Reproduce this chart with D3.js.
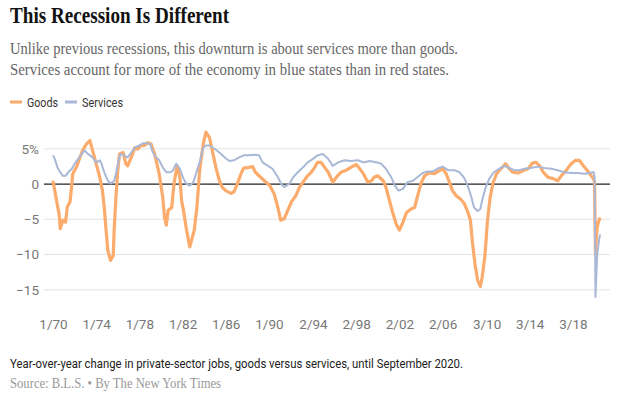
<!DOCTYPE html>
<html>
<head>
<meta charset="utf-8">
<script src="https://cdn.jsdelivr.net/npm/d3@7"></script>
<style>
  body { margin: 0; background: #fff; }
  svg { display: block; }
  .title { font-family: "Liberation Serif", serif; font-weight: 700; font-size: 24px; fill: #121212; }
  .dek { font-family: "Liberation Serif", serif; font-size: 17px; fill: #666; }
  .legend-label { font-family: "Roboto", sans-serif; font-size: 13.5px; fill: #333; }
  .axis text { font-family: "Roboto", sans-serif; font-size: 13.5px; fill: #777; }
  .axis path { display: none; }
  .note { font-family: "Roboto", sans-serif; font-size: 13.5px; fill: #222; }
  .source { font-family: "Liberation Serif", serif; font-size: 14.5px; fill: #999; }
</style>
</head>
<body>
<svg id="chart" width="628" height="399"></svg>
<script>
// Jährliche Veränderung der Beschäftigung: Güter vs. Dienstleistungen

const goods = [
  ["1970-01", 0.4], ["1970-03", -1.0], ["1970-06", -3.1], ["1970-08", -4.5], ["1970-09", -6.4],
  ["1970-12", -5.2], ["1971-03", -5.5], ["1971-05", -3.3], ["1971-08", -2.6], ["1971-10", 0.0],
  ["1971-11", 1.4], ["1972-03", 2.3], ["1972-07", 3.7], ["1972-10", 4.7], ["1973-02", 5.6],
  ["1973-06", 6.1], ["1973-09", 4.7], ["1974-01", 2.8], ["1974-05", 0.9], ["1974-08", -1.0],
  ["1974-10", -3.4], ["1974-12", -6.6], ["1975-02", -9.5], ["1975-05", -10.9], ["1975-08", -10.2],
  ["1975-09", -6.6], ["1975-11", -1.9], ["1976-01", 1.8], ["1976-03", 4.2], ["1976-07", 4.4],
  ["1976-10", 2.8], ["1976-12", 2.5], ["1977-04", 3.7], ["1977-08", 5.1], ["1977-11", 4.9],
  ["1978-03", 5.4], ["1978-07", 5.4], ["1978-10", 5.8], ["1979-02", 5.6], ["1979-06", 4.2],
  ["1979-11", 1.4], ["1980-03", -1.9], ["1980-05", -4.8], ["1980-07", -5.9], ["1980-09", -3.8],
  ["1981-01", -3.4], ["1981-02", -1.9], ["1981-04", 0.4], ["1981-07", 2.5], ["1981-10", 0.9],
  ["1981-12", -2.5], ["1982-02", -3.8], ["1982-05", -6.2], ["1982-07", -7.6], ["1982-09", -9.0],
  ["1983-01", -7.1], ["1983-02", -6.6], ["1983-05", -3.4], ["1983-08", 1.8], ["1983-12", 5.6],
  ["1984-03", 7.3], ["1984-07", 6.5], ["1984-10", 4.7], ["1985-02", 2.3], ["1985-06", 0.4],
  ["1985-09", -0.5], ["1986-01", -1.0], ["1986-07", -1.4], ["1986-10", -1.2], ["1987-02", 0.0],
  ["1987-06", 1.4], ["1987-09", 2.2], ["1988-03", 2.3], ["1988-07", 2.4], ["1988-10", 1.6],
  ["1989-02", 1.1], ["1989-08", 0.4], ["1990-02", -0.3], ["1990-07", -1.5], ["1990-11", -3.4],
  ["1991-02", -5.2], ["1991-06", -5.0], ["1991-10", -3.8], ["1992-02", -2.6], ["1992-07", -1.7],
  ["1992-11", -0.5], ["1993-03", 0.2], ["1993-08", 1.1], ["1993-12", 1.6], ["1994-04", 2.3],
  ["1994-07", 3.0], ["1994-11", 3.0], ["1995-03", 2.3], ["1995-07", 1.6], ["1995-12", 0.2],
  ["1996-04", 0.9], ["1996-09", 1.6], ["1997-03", 1.9], ["1997-08", 2.3], ["1998-02", 2.7],
  ["1998-06", 2.1], ["1998-10", 1.4], ["1999-03", 0.2], ["1999-07", 0.4], ["1999-10", 0.9],
  ["2000-02", 1.1], ["2000-08", 0.4], ["2000-11", -0.5], ["2001-03", -2.4], ["2001-07", -4.3],
  ["2001-11", -5.9], ["2002-02", -6.6], ["2002-06", -5.5], ["2002-10", -4.1], ["2003-03", -3.6],
  ["2003-07", -3.4], ["2003-10", -1.9], ["2004-02", 0.0], ["2004-06", 1.1], ["2004-11", 1.5],
  ["2005-05", 1.4], ["2005-10", 1.8], ["2006-02", 2.1], ["2006-06", 1.4], ["2006-09", 0.4],
  ["2007-01", -1.0], ["2007-05", -1.7], ["2007-10", -2.2], ["2008-02", -2.8], ["2008-06", -4.0],
  ["2008-09", -5.2], ["2008-11", -8.1], ["2009-02", -11.4], ["2009-05", -13.7], ["2009-08", -14.6],
  ["2009-10", -13.3], ["2010-01", -10.4], ["2010-04", -5.2], ["2010-07", -1.9], ["2010-10", 0.0],
  ["2011-02", 1.4], ["2011-07", 2.1], ["2011-12", 2.8], ["2012-03", 2.3], ["2012-08", 1.6],
  ["2013-02", 1.5], ["2013-07", 1.8], ["2014-01", 2.1], ["2014-06", 2.9], ["2014-10", 3.0],
  ["2015-02", 2.5], ["2015-06", 1.6], ["2015-11", 0.9], ["2016-05", 0.7], ["2016-10", 0.4],
  ["2017-02", 1.1], ["2017-07", 1.8], ["2018-01", 2.8], ["2018-06", 3.3], ["2018-10", 3.3],
  ["2019-02", 2.6], ["2019-06", 2.0], ["2019-09", 1.5], ["2019-12", 1.0], ["2020-02", 0.6],
  ["2020-03", 0.2], ["2020-04", -10.0], ["2020-05", -7.5], ["2020-06", -6.2], ["2020-07", -5.6],
  ["2020-08", -5.2], ["2020-09", -4.8]
];

const services = [
  ["1970-01", 4.0], ["1970-03", 3.5], ["1970-06", 2.3], ["1970-08", 1.8], ["1970-12", 1.1],
  ["1971-03", 1.1], ["1971-06", 1.6], ["1971-10", 2.1], ["1972-01", 2.8], ["1972-05", 3.5],
  ["1972-09", 4.2], ["1972-12", 4.7], ["1973-03", 4.3], ["1973-06", 4.0], ["1973-09", 3.7],
  ["1974-01", 3.0], ["1974-05", 3.3], ["1974-07", 2.8], ["1974-10", 1.6], ["1975-02", 0.4],
  ["1975-05", 0.0], ["1975-09", 0.4], ["1975-11", 1.4], ["1976-02", 3.3], ["1976-04", 4.2],
  ["1976-08", 4.0], ["1976-12", 3.7], ["1977-04", 4.4], ["1977-08", 5.1], ["1978-01", 5.4],
  ["1978-05", 5.7], ["1978-09", 5.7], ["1979-01", 5.6], ["1979-04", 4.4], ["1979-08", 3.7],
  ["1979-11", 3.3], ["1980-03", 2.3], ["1980-07", 1.6], ["1980-11", 1.6], ["1981-02", 1.8],
  ["1981-06", 2.8], ["1981-10", 2.1], ["1982-02", 0.7], ["1982-05", 0.0], ["1982-09", -0.3],
  ["1983-01", 0.2], ["1983-04", 1.4], ["1983-08", 3.0], ["1983-12", 5.1], ["1984-03", 5.4],
  ["1984-07", 5.4], ["1985-01", 4.9], ["1985-06", 4.4], ["1985-12", 3.7], ["1986-05", 3.2],
  ["1986-10", 3.3], ["1987-04", 3.7], ["1987-09", 4.0], ["1988-03", 4.0], ["1988-09", 4.1],
  ["1989-02", 4.0], ["1989-06", 3.0], ["1989-12", 2.5], ["1990-05", 2.1], ["1990-11", 0.9],
  ["1991-03", -0.1], ["1991-06", -0.5], ["1991-12", 0.0], ["1992-04", 0.9], ["1992-09", 1.6],
  ["1993-03", 2.3], ["1993-08", 3.0], ["1994-02", 3.5], ["1994-07", 4.0], ["1995-01", 4.2],
  ["1995-07", 3.5], ["1995-12", 2.5], ["1996-06", 3.0], ["1997-01", 3.3], ["1997-08", 3.2],
  ["1998-04", 3.3], ["1998-10", 3.0], ["1999-05", 3.2], ["2000-01", 3.0], ["2000-06", 2.8],
  ["2000-11", 2.1], ["2001-05", 0.9], ["2001-09", -0.3], ["2002-01", -1.0], ["2002-06", -0.75],
  ["2002-11", 0.2], ["2003-05", 0.4], ["2003-10", 0.9], ["2004-04", 1.5], ["2004-09", 1.7],
  ["2005-03", 1.7], ["2005-08", 2.1], ["2006-02", 2.4], ["2006-08", 1.9], ["2007-03", 1.9],
  ["2007-09", 1.6], ["2008-02", 0.8], ["2008-06", -0.3], ["2008-10", -1.9], ["2009-01", -3.4],
  ["2009-05", -3.9], ["2009-08", -3.6], ["2009-10", -2.4], ["2010-02", -0.5], ["2010-06", 0.7],
  ["2010-11", 1.6], ["2011-05", 2.1], ["2011-11", 2.5], ["2012-04", 2.2], ["2012-10", 1.9],
  ["2013-03", 1.9], ["2013-09", 2.1], ["2014-04", 2.2], ["2014-12", 2.4], ["2015-07", 2.2],
  ["2016-03", 2.1], ["2016-10", 1.9], ["2017-05", 1.6], ["2018-01", 1.5], ["2018-08", 1.5],
  ["2019-04", 1.4], ["2019-09", 1.5], ["2020-02", 1.6], ["2020-03", 1.0], ["2020-04", -16.1],
  ["2020-05", -13.0], ["2020-06", -10.0], ["2020-07", -9.0], ["2020-08", -8.0], ["2020-09", -7.2]
];

const xTicks = ["1970-01", "1974-01", "1978-01", "1982-01", "1986-01", "1990-01", "1994-02",
  "1998-02", "2002-02", "2006-02", "2010-03", "2014-03", "2018-03"];
const yTicks = [-15, -10, -5, 0, 5];

const parseMonth = d3.timeParse("%Y-%m");

const svg = d3.select("#chart");

// Skalen
const x = d3.scaleTime()
  .domain([parseMonth("1970-01"), parseMonth("2020-09")])
  .range([53, 600]);

const y = d3.scaleLinear()
  .domain([-15, 5])
  .range([289.3, 148.3]);

// Kopfbereich (schmale NYT-Schriften über textLength angenähert)
svg.append("text").attr("class", "title").attr("x", 10).attr("y", 23)
  .attr("textLength", 219).attr("lengthAdjust", "spacingAndGlyphs")
  .text("This Recession Is Different");
svg.append("text").attr("class", "dek").attr("x", 10).attr("y", 54)
  .attr("textLength", 448).attr("lengthAdjust", "spacingAndGlyphs")
  .text("Unlike previous recessions, this downturn is about services more than goods.");
svg.append("text").attr("class", "dek").attr("x", 10).attr("y", 75)
  .attr("textLength", 439).attr("lengthAdjust", "spacingAndGlyphs")
  .text("Services account for more of the economy in blue states than in red states.");

// Legende
const legendItems = [
  { label: "Goods", color: "#fbab6b", x: 10, w: 31 },
  { label: "Services", color: "#a9b8d6", x: 65, w: 41 }
];
const legend = svg.append("g").attr("transform", "translate(0, 102)");
legend.selectAll("line")
  .data(legendItems)
  .join("line")
  .attr("x1", d => d.x).attr("x2", d => d.x + 12)
  .attr("y1", 0).attr("y2", 0)
  .attr("stroke", d => d.color).attr("stroke-width", 3);
legend.selectAll("text")
  .data(legendItems)
  .join("text")
  .attr("class", "legend-label")
  .attr("x", d => d.x + 17).attr("y", 5)
  .attr("textLength", d => d.w).attr("lengthAdjust", "spacingAndGlyphs")
  .text(d => d.label);

// Y-Achse mit Gitterlinien
const yAxis = svg.append("g")
  .attr("class", "axis")
  .attr("transform", "translate(44,0)")
  .call(d3.axisLeft(y)
    .tickValues(yTicks)
    .tickSize(-566)
    .tickPadding(5)
    .tickFormat(d => d === 5 ? "5%" : d < 0 ? "\u2212" + Math.abs(d) : d));
yAxis.selectAll("line")
  .attr("stroke", d => d === 0 ? "#222" : "#e3e3e3")
  .attr("stroke-width", d => d === 0 ? 1.2 : 1);
yAxis.selectAll("text").attr("dy", "0.35em");

// X-Achse (nur Beschriftung)
svg.append("g")
  .attr("class", "axis")
  .attr("transform", "translate(0,319)")
  .call(d3.axisBottom(x)
    .tickValues(xTicks.map(parseMonth))
    .tickSize(0)
    .tickPadding(0)
    .tickFormat(d3.timeFormat("%-m/%y")));

// Linien
const line = d3.line()
  .x(d => x(parseMonth(d[0])))
  .y(d => y(d[1]));

svg.append("path")
  .datum(goods)
  .attr("fill", "none")
  .attr("stroke", "#fbab6b")
  .attr("stroke-width", 3.2)
  .attr("stroke-linejoin", "round")
  .attr("d", line);

svg.append("path")
  .datum(services)
  .attr("fill", "none")
  .attr("stroke", "#a9b8d6")
  .attr("stroke-width", 2)
  .attr("stroke-linejoin", "round")
  .attr("d", line);

// Fußnote
svg.append("text").attr("class", "note").attr("x", 10).attr("y", 368)
  .attr("textLength", 453).attr("lengthAdjust", "spacingAndGlyphs")
  .text("Year-over-year change in private-sector jobs, goods versus services, until September 2020.");
svg.append("text").attr("class", "source").attr("x", 10).attr("y", 388)
  .attr("textLength", 211).attr("lengthAdjust", "spacingAndGlyphs")
  .text("Source: B.L.S. \u2022 By The New York Times");
</script>
</body>
</html>
